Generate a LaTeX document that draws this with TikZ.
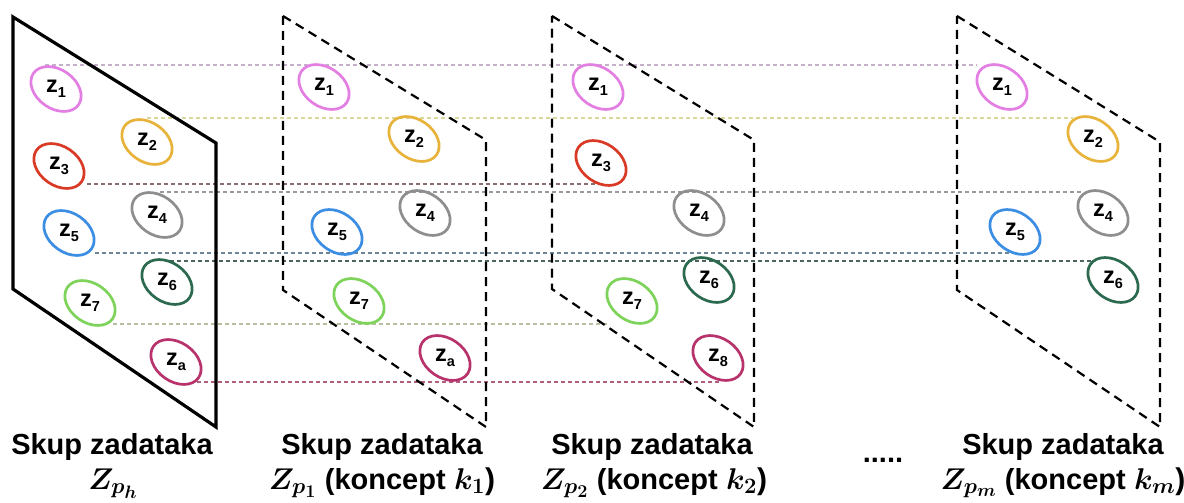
\RequirePackage{fix-cm}
\documentclass[tikz,border=0pt]{standalone}
\usepackage{fontspec}
\setmainfont{Liberation Sans}
\usetikzlibrary{shapes.geometric}
\DeclareMathSizes{30}{30}{22}{18}
\definecolor{cz1}{HTML}{E37FE3}
\definecolor{cz2}{HTML}{E8B33A}
\definecolor{cz3}{HTML}{D93A26}
\definecolor{cz4}{HTML}{8E8E8E}
\definecolor{cz5}{HTML}{3B8EE3}
\definecolor{cz6}{HTML}{2C6A50}
\definecolor{cz7}{HTML}{7ED35A}
\definecolor{cz8}{HTML}{B8336C}
\definecolor{lk1}{HTML}{C4B0C8}
\definecolor{lk2}{HTML}{D8D89C}
\definecolor{lk3}{HTML}{8A6E6E}
\definecolor{lk4}{HTML}{9A9A9A}
\definecolor{lk5}{HTML}{6E8499}
\definecolor{lk6}{HTML}{4E6460}
\definecolor{lk7}{HTML}{B8BFA0}
\definecolor{lk8}{HTML}{B0607E}
\newcommand{\zell}[5]{%
  \node[zell, draw=#4] (#1) at (#2,#3) {};
  \node[ztext] (#1t) at (#1.center) {z\raisebox{-5.5pt}{\fontsize{14.5}{14.5}\selectfont #5}};
}
\begin{document}
\begin{tikzpicture}[x=1pt,y=-1pt,
  zell/.style={ellipse, minimum width=55pt, minimum height=39pt, line width=2.7pt, rotate=-35, inner sep=0pt},
  ztext/.style={font=\fontsize{23.5}{23.5}\selectfont\bfseries, inner sep=0pt},
  solidpanel/.style={line width=3.2pt, line join=miter},
  dashpanel/.style={line width=2.2pt, dash pattern=on 9pt off 6pt},
  link/.style={line width=1.1pt, dash pattern=on 4pt off 3pt},
  labtxt/.style={font=\fontsize{29}{29}\selectfont\bfseries, inner sep=0pt, anchor=base},
  labmath/.style={font=\fontsize{30}{30}\selectfont\bfseries\boldmath, inner sep=0pt, anchor=base}]
\useasboundingbox (0,0) rectangle (1184,503);
\fill[white] (0,0) rectangle (1184,503);

% connector end points
\coordinate (a1) at (45,65);   \coordinate (b1) at (977,65);
\coordinate (a2) at (147,118); \coordinate (b2) at (1073,118);
\coordinate (a3) at (87,184);  \coordinate (b3) at (597,184);
\coordinate (a4) at (160,192); \coordinate (b4) at (1082,192);
\coordinate (a5) at (95,253);  \coordinate (b5) at (1010,253);
\coordinate (a6) at (170,261); \coordinate (b6) at (1093,261);
\coordinate (a7) at (113,324); \coordinate (b7) at (610,324);
\coordinate (a8) at (197,382); \coordinate (b8) at (720,382);
\draw[link, lk1] (a1) -- (b1);
\draw[link, lk2] (a2) -- (b2);
\draw[link, lk3] (a3) -- (b3);
\draw[link, lk4] (a4) -- (b4);
\draw[link, lk5] (a5) -- (b5);
\draw[link, lk6] (a6) -- (b6);
\draw[link, lk7] (a7) -- (b7);
\draw[link, lk8] (a8) -- (b8);

% panels
\draw[solidpanel] (13,17) -- (216,143) -- (216,427) -- (13,289) -- cycle;
\draw[dashpanel] (283,16) -- (486,140) -- (486,427) -- (283,290) -- cycle;
\draw[dashpanel] (552,16) -- (754,140) -- (754,427) -- (552,289) -- cycle;
\draw[dashpanel] (957,16) -- (1160,142) -- (1160,427) -- (957,290) -- cycle;

% panel 0
\zell{pa1}{56}{89}{cz1}{1}
\zell{pa2}{147}{142}{cz2}{2}
\zell{pa3}{59}{166}{cz3}{3}
\zell{pa4}{157}{215}{cz4}{4}
\zell{pa5}{69}{233}{cz5}{5}
\zell{pa6}{167}{282}{cz6}{6}
\zell{pa7}{90}{303}{cz7}{7}
\zell{pa8}{176}{362}{cz8}{a}
% panel 1
\zell{pb1}{324}{87}{cz1}{1}
\zell{pb2}{414}{139}{cz2}{2}
\zell{pb4}{425}{213}{cz4}{4}
\zell{pb5}{337}{232}{cz5}{5}
\zell{pb7}{359}{301}{cz7}{7}
\zell{pb8}{445}{358}{cz8}{a}
% panel 2
\zell{pc1}{598}{87}{cz1}{1}
\zell{pc3}{601}{163}{cz3}{3}
\zell{pc4}{699}{213}{cz4}{4}
\zell{pc6}{709}{280}{cz6}{6}
\zell{pc7}{632}{301}{cz7}{7}
\zell{pc8}{718}{358}{cz8}{8}
% panel 3
\zell{pd1}{1002}{87}{cz1}{1}
\zell{pd2}{1093}{139}{cz2}{2}
\zell{pd4}{1103}{213}{cz4}{4}
\zell{pd5}{1015}{232}{cz5}{5}
\zell{pd6}{1113}{280}{cz6}{6}

% labels
\node[labtxt] (la1) at (112,454) {Skup zadataka};
\node[labmath] (la2) at (113,489) {$Z_{p_h}$};
\node[labtxt] (lb1) at (382,454) {Skup zadataka};
\node[labmath] (lb2) at (382,489) {$Z_{p_1}$ {\fontsize{29}{29}\selectfont(koncept} $k_1$)};
\node[labtxt] (lc1) at (652,454) {Skup zadataka};
\node[labmath] (lc2) at (654,489) {$Z_{p_2}$ {\fontsize{29}{29}\selectfont(koncept} $k_2$)};
\node[labtxt] (dots) at (883,462) {.....};
\node[labtxt] (ld1) at (1063,454) {Skup zadataka};
\node[labmath] (ld2) at (1063,489) {$Z_{p_m}$ {\fontsize{29}{29}\selectfont(koncept} $k_m$)};
\end{tikzpicture}
\end{document}
